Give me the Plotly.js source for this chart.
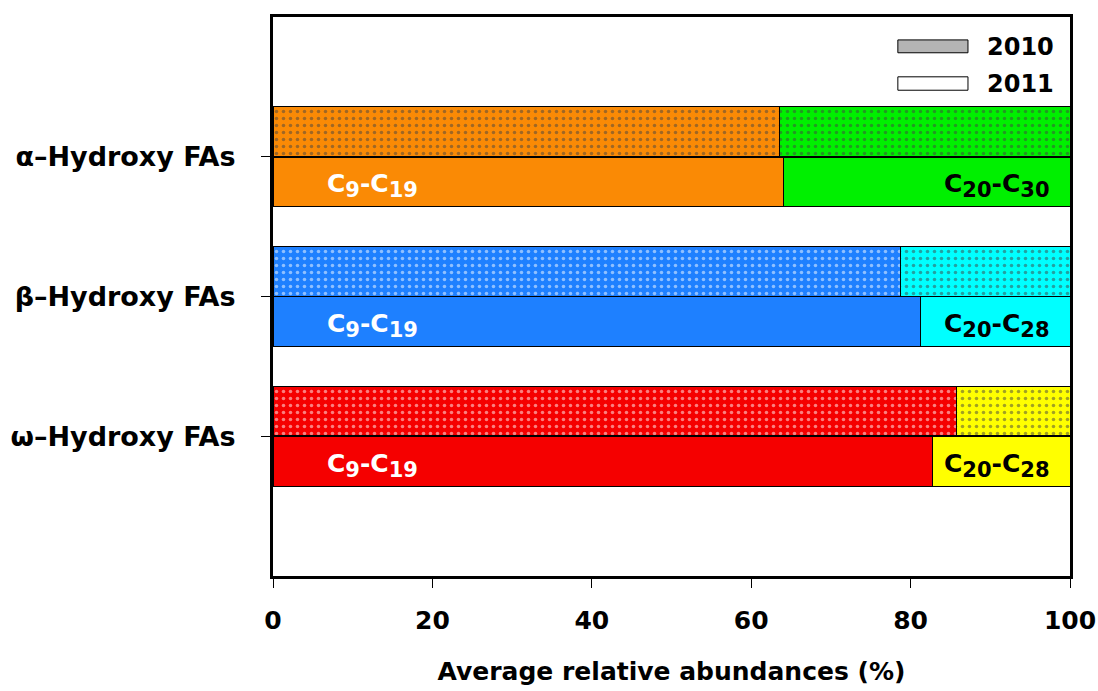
<!DOCTYPE html>
<html>
<head>
<meta charset="utf-8">
<script src="https://cdn.plot.ly/plotly-3.0.1.min.js"></script>
<style>html,body{margin:0;padding:0;background:#fff;}#chart{width:1098px;height:691px;}</style>
</head>
<body>
<div id="chart"></div>
<script>
// Data (bottom to top on the y axis)
const categories = ["ω–Hydroxy FAs", "β–Hydroxy FAs", "α–Hydroxy FAs"];
const positions = [0, 1, 2];
const low2010 = [85.8, 78.7, 63.5];   // C9-C19 share, 2010
const low2011 = [82.8, 81.2, 64.0];   // C9-C19 share, 2011
const high2010 = low2010.map(v => +(100 - v).toFixed(1));  // complement to 100 %
const high2011 = low2011.map(v => +(100 - v).toFixed(1));
const lowRange = [["9", "19"], ["9", "19"], ["9", "19"]];
const highRange = [["20", "28"], ["20", "28"], ["20", "30"]];
const xTicks = [0, 20, 40, 60, 80, 100];
const years = ["2010", "2011"];

// Styles
const lowColors = ["#F50000", "#1E80FF", "#FA8A05"];
const highColors = ["#FFFF00", "#00FFFF", "#00F000"];
const off = 0.18, bw = 0.355;
const FONT = "DejaVu Sans, Liberation Sans, Arial, sans-serif";
const pat = {shape: ".", fillmode: "overlay", fgcolor: "#000", size: 7, solidity: 0.2};
const line = {color: "#000", width: 1};
const sub = s => "<sub><span style='font-size:21px'>" + s + "</span></sub>";
const chain = r => "<b>C" + sub(r[0]) + "-C" + sub(r[1]) + "</b>";

const y2010 = positions.map(p => p + off);
const y2011 = positions.map(p => p - off);

const traces = [
  {type: "bar", orientation: "h", y: y2010, x: low2010, width: bw,
   marker: {color: lowColors, line: line, pattern: pat}, showlegend: false, hoverinfo: "x"},
  {type: "bar", orientation: "h", y: y2010, x: high2010, width: bw,
   marker: {color: highColors, line: line, pattern: pat}, showlegend: false, hoverinfo: "x"},
  {type: "bar", orientation: "h", y: y2011, x: low2011, width: bw,
   marker: {color: lowColors, line: line}, showlegend: false, hoverinfo: "x"},
  {type: "bar", orientation: "h", y: y2011, x: high2011, width: bw,
   marker: {color: highColors, line: line}, showlegend: false, hoverinfo: "x"}
];

const annotations = [];
positions.forEach((p, i) => {
  annotations.push({x: 0, y: p - off, xref: "x", yref: "y", text: chain(lowRange[i]),
    showarrow: false, xanchor: "left", xshift: 52, yshift: -4,
    font: {family: FONT, size: 25, color: "#fff"}});
  annotations.push({x: 100, y: p - off, xref: "x", yref: "y", text: chain(highRange[i]),
    showarrow: false, xanchor: "right", xshift: -18, yshift: -4,
    font: {family: FONT, size: 25, color: "#000"}});
});
// legend text
annotations.push({x: 0.893, y: 0.947, xref: "paper", yref: "paper", text: "<b>" + years[0] + "</b>",
  showarrow: false, xanchor: "left", yanchor: "middle", font: {family: FONT, size: 24, color: "#000"}});
annotations.push({x: 0.893, y: 0.881, xref: "paper", yref: "paper", text: "<b>" + years[1] + "</b>",
  showarrow: false, xanchor: "left", yanchor: "middle", font: {family: FONT, size: 24, color: "#000"}});

const shapes = [
  {type: "rect", xref: "paper", yref: "paper", x0: 0.784, x1: 0.872, y0: 0.936, y1: 0.959,
   fillcolor: "#b4b4b4", line: {color: "#000", width: 1}},
  {type: "rect", xref: "paper", yref: "paper", x0: 0.784, x1: 0.872, y0: 0.869, y1: 0.893,
   fillcolor: "#fff", line: {color: "#000", width: 1}}
];

const layout = {
  width: 1098, height: 691,
  margin: {l: 273, r: 28, t: 17, b: 115},
  paper_bgcolor: "#fff", plot_bgcolor: "#fff",
  barmode: "stack", bargap: 0,
  showlegend: false,
  font: {family: FONT, color: "#000"},
  xaxis: {
    range: [0, 100], tickvals: xTicks, ticktext: xTicks.map(v => "<b>" + v + "</b>"),
    showgrid: false, zeroline: false,
    showline: true, mirror: true, linecolor: "#000", linewidth: 3,
    ticks: "outside", ticklen: 9, tickwidth: 1, tickcolor: "#000",
    tickfont: {family: FONT, size: 25, color: "#000"}, ticklabelstandoff: 11,
    title: {text: "<b>Average relative abundances (%)</b>", font: {family: FONT, size: 25, color: "#000"}, standoff: 29}
  },
  yaxis: {
    range: [-1, 3], tickvals: positions, ticktext: categories.map(c => "<b>" + c + "</b>"),
    showgrid: false, zeroline: false,
    showline: true, mirror: true, linecolor: "#000", linewidth: 3,
    ticks: "outside", ticklen: 9, tickwidth: 1, tickcolor: "#000",
    tickfont: {family: FONT, size: 27, color: "#000"}, ticklabelstandoff: 20
  },
  annotations: annotations,
  shapes: shapes
};

Plotly.newPlot("chart", traces, layout, {displayModeBar: false, staticPlot: true});
</script>
</body>
</html>
